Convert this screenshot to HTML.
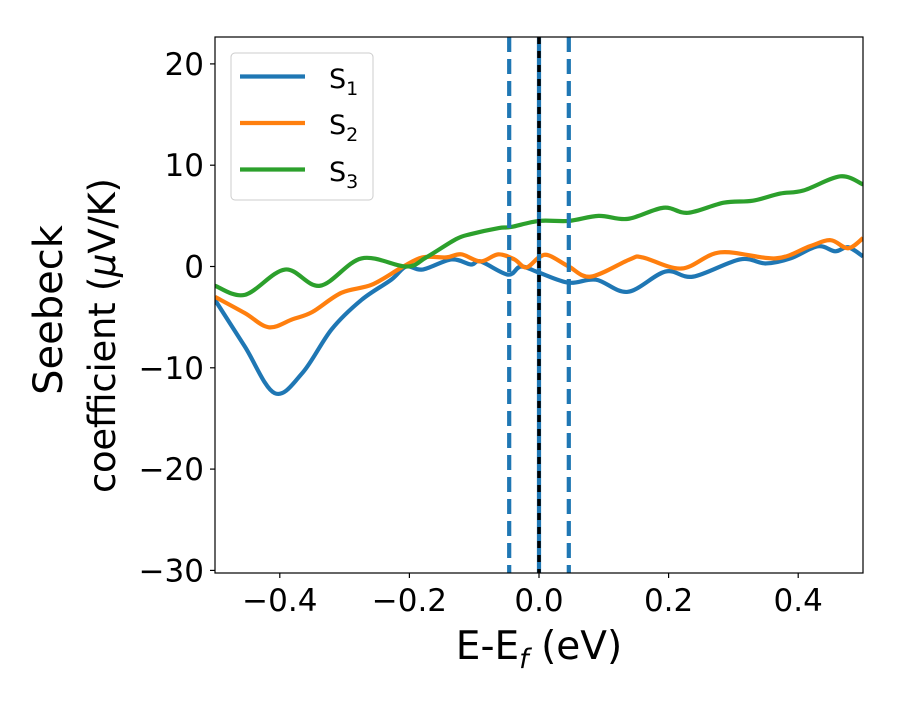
<!DOCTYPE html>
<html><head><meta charset="utf-8"><style>
body{margin:0;background:#fff}
text{font-family:"DejaVu Sans","Liberation Sans",sans-serif}
</style></head><body>
<svg id="chart" width="900" height="700" xmlns="http://www.w3.org/2000/svg">
<g id="plot"></g>
</svg>
<script>
const s1x=[-0.5,-0.454,-0.408,-0.365,-0.32,-0.274,-0.228,-0.205,-0.18,-0.135,-0.105,-0.09,-0.048,-0.028,0,0.046,0.088,0.137,0.195,0.238,0.31,0.35,0.388,0.43,0.457,0.477,0.5];
const s1y=[-3.3,-7.9,-12.5,-10.5,-6.2,-3.3,-1.3,0,-0.3,0.7,0.2,0.5,-0.8,0,-0.6,-1.6,-1.3,-2.5,-0.5,-1.0,0.7,0.3,0.8,2.0,1.5,1.9,1.0];
const s2x=[-0.5,-0.454,-0.417,-0.38,-0.35,-0.305,-0.258,-0.212,-0.18,-0.143,-0.12,-0.09,-0.063,-0.038,-0.02,0,0.015,0.046,0.08,0.14,0.16,0.22,0.28,0.365,0.418,0.45,0.477,0.5];
const s2y=[-3.0,-4.6,-6.0,-5.2,-4.5,-2.6,-1.8,-0.1,0.9,0.9,1.2,0.5,1.2,0.7,-0.1,0.9,1.1,0,-1.0,0.7,0.9,-0.2,1.4,0.8,2.0,2.6,1.8,2.8];
const s3x=[-0.5,-0.454,-0.392,-0.338,-0.274,-0.205,-0.174,-0.128,-0.105,-0.062,-0.043,0,0.046,0.092,0.137,0.192,0.23,0.285,0.33,0.372,0.408,0.465,0.5];
const s3y=[-1.9,-2.8,-0.3,-1.9,0.8,0,0.9,2.7,3.2,3.8,3.9,4.5,4.5,5.0,4.7,5.8,5.3,6.3,6.5,7.2,7.5,8.9,8.1];
const xTicks=[-0.4,-0.2,0.0,0.2,0.4];
const xTickLabels=["\u22120.4","\u22120.2","0.0","0.2","0.4"];
const yTicks=[20,10,0,-10,-20,-30];
const yTickLabels=["20","10","0","\u221210","\u221220","\u221230"];
const vlines=[-0.046,0.046];
const L=215,R=863,T=37,B=573;
const X=v=>L+(v+0.5)/1.0*(R-L);
const Y=v=>266.5-v*10.13;
const NS="http://www.w3.org/2000/svg";
const svg=document.getElementById('chart');
function mk(tag,attrs,txt,parent){const e=document.createElementNS(NS,tag);for(const k in attrs)e.setAttribute(k,attrs[k]);if(txt!=null)e.textContent=txt;(parent||svg).appendChild(e);return e;}
function path(xs,ys){const p=xs.map((x,i)=>[X(x),Y(ys[i])]);let d=`M${p[0][0]},${p[0][1]}`;for(let i=0;i<p.length-1;i++){const p0=p[Math.max(0,i-1)],p1=p[i],p2=p[i+1],p3=p[Math.min(p.length-1,i+2)];const c1=[p1[0]+(p2[0]-p0[0])/6,p1[1]+(p2[1]-p0[1])/6],c2=[p2[0]-(p3[0]-p1[0])/6,p2[1]-(p3[1]-p1[1])/6];d+=` C${c1[0]},${c1[1]} ${c2[0]},${c2[1]} ${p2[0]},${p2[1]}`;}return d;}
const clip=mk('clipPath',{id:'cp'});mk('rect',{x:L,y:T,width:R-L,height:B-T},null,clip);
const g=mk('g',{'clip-path':'url(#cp)'});
const series=[[s1x,s1y,'#1f77b4','series-s1'],[s2x,s2y,'#ff7f0e','series-s2'],[s3x,s3y,'#2ca02c','series-s3']];
series.forEach(s=>{const e=mk('path',{d:path(s[0],s[1]),fill:'none',stroke:s[2],'stroke-width':4.2},null,g);

});
vlines.forEach(v=>{const e=mk('line',{x1:X(v),x2:X(v),y1:T,y2:B,stroke:'#1f77b4','stroke-width':4.2,'stroke-dasharray':'15 7'},null,g);

});
let e=mk('line',{x1:X(0),x2:X(0),y1:T,y2:B,stroke:'#1f77b4','stroke-width':4.2},null,g);


e=mk('line',{x1:X(0),x2:X(0),y1:T,y2:B,stroke:'#000','stroke-width':3.5,'stroke-dasharray':'7 7'},null,g);


e=mk('rect',{x:L,y:T,width:R-L,height:B-T,fill:'none',stroke:'#000','stroke-width':1.2});


xTicks.forEach((v,i)=>{mk('line',{x1:X(v),x2:X(v),y1:B,y2:B+5,stroke:'#000','stroke-width':1.2});
const t=mk('text',{x:X(v),y:B+38,'font-size':31,'text-anchor':'middle'},xTickLabels[i]);

});
yTicks.forEach((v,i)=>{mk('line',{x1:L-5,x2:L,y1:Y(v),y2:Y(v),stroke:'#000','stroke-width':1.2});
const t=mk('text',{x:L-11,y:Y(v)+11,'font-size':31,'text-anchor':'end'},yTickLabels[i]);

});
</script>
<svg width="900" height="700" style="position:absolute;left:0;top:0" xmlns="http://www.w3.org/2000/svg">
<text x="539" y="659" font-size="39" text-anchor="middle">E-E<tspan font-style="italic" font-size="27" dy="9">f</tspan><tspan dy="-9"> (eV)</tspan></text>
<text transform="translate(62,310) rotate(-90)" font-size="40" text-anchor="middle">Seebeck</text>
<text transform="translate(115,493) rotate(-90)" font-size="37" textLength="315" lengthAdjust="spacing">coefficient  (<tspan font-style="italic">μ</tspan>V/K)</text>
<g>
<rect x="231" y="53" width="142" height="147" rx="4" fill="#fff" fill-opacity="0.8" stroke="#ccc" stroke-width="1"/>
<line x1="240" y1="76.5" x2="305" y2="76.5" stroke="#1f77b4" stroke-width="4.2"/>
<text x="329" y="88" font-size="27">S<tspan font-size="19" dy="7">1</tspan></text>
<line x1="240" y1="123" x2="305" y2="123" stroke="#ff7f0e" stroke-width="4.2"/>
<text x="329" y="134" font-size="27">S<tspan font-size="19" dy="7">2</tspan></text>
<line x1="240" y1="169.5" x2="305" y2="169.5" stroke="#2ca02c" stroke-width="4.2"/>
<text x="329" y="181" font-size="27">S<tspan font-size="19" dy="7">3</tspan></text>
</g>
</svg>
</body></html>
